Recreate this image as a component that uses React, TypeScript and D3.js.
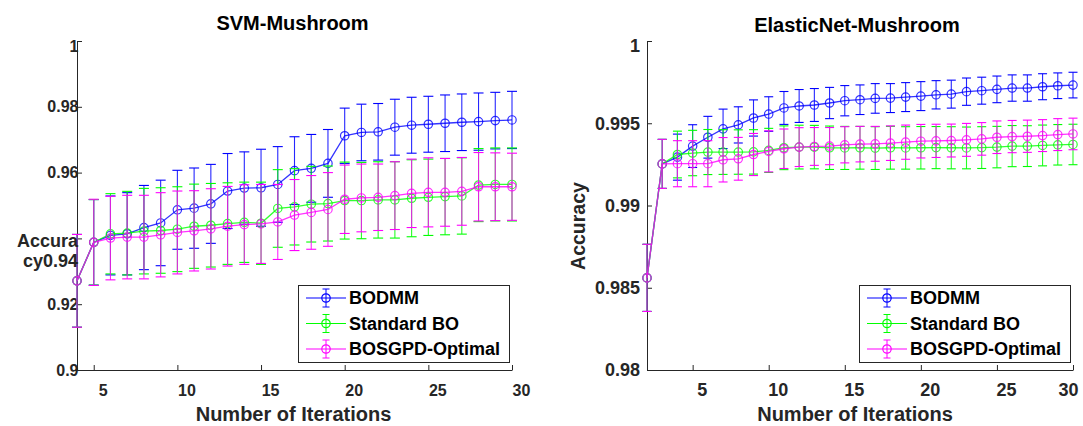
import { useEffect, useRef } from 'react'
import * as d3 from 'd3'

const W = 1083
const H = 426
const TOP = 41
const BOTTOM = 370
const FONT = 'Arial, "Liberation Sans", Helvetica, sans-serif'
const INK = '#262626'

const SERIES_NAMES = ['BODMM', 'Standard BO', 'BOSGPD-Optimal']
const SERIES_COLORS = ['#0000ff', '#00ff00', '#ff00ff']
const X_TICKS = [5, 10, 15, 20, 25, 30]

// SVM-Mushroom
const svmIter = [4, 5, 6, 7, 8, 9, 10, 11, 12, 13, 14, 15, 16, 17, 18, 19, 20, 21, 22, 23, 24, 25, 26, 27, 28, 29, 30]
const svmBodmm = [0.9271, 0.9388, 0.9409, 0.9414, 0.9433, 0.9447, 0.9487, 0.9492, 0.9505, 0.9544, 0.9553, 0.9554, 0.9564, 0.9606, 0.9613, 0.9628, 0.9712, 0.9722, 0.9724, 0.9738, 0.9744, 0.9747, 0.975, 0.9753, 0.9755, 0.9758, 0.976]
const svmBodmmErr = [0.0141, 0.013, 0.012, 0.0125, 0.0128, 0.013, 0.012, 0.0122, 0.012, 0.0114, 0.011, 0.0117, 0.0115, 0.0103, 0.0103, 0.0103, 0.0084, 0.0086, 0.0086, 0.0085, 0.0085, 0.0085, 0.0086, 0.0086, 0.0087, 0.0086, 0.0087]
const svmStd = [0.9271, 0.9388, 0.9414, 0.9416, 0.9422, 0.9424, 0.9428, 0.9437, 0.944, 0.9445, 0.9449, 0.9446, 0.9491, 0.9496, 0.9504, 0.9506, 0.9515, 0.9515, 0.9517, 0.9517, 0.9522, 0.9525, 0.9527, 0.9529, 0.9562, 0.9564, 0.9564]
const svmStdErr = [0.0141, 0.013, 0.0122, 0.0127, 0.013, 0.013, 0.0129, 0.0128, 0.0127, 0.0124, 0.0122, 0.0125, 0.0118, 0.0116, 0.0115, 0.0114, 0.0117, 0.0116, 0.0116, 0.0116, 0.0117, 0.0116, 0.0116, 0.0116, 0.0111, 0.0111, 0.0111]
const svmOpt = [0.9271, 0.9388, 0.9401, 0.9404, 0.9404, 0.9411, 0.9418, 0.9423, 0.9429, 0.9437, 0.9442, 0.9444, 0.945, 0.9471, 0.9479, 0.9488, 0.9519, 0.9523, 0.9525, 0.953, 0.9537, 0.954, 0.954, 0.9543, 0.9557, 0.9557, 0.9557]
const svmOptErr = [0.0141, 0.0131, 0.0127, 0.0127, 0.0127, 0.0128, 0.0126, 0.0122, 0.0122, 0.0121, 0.0121, 0.012, 0.0114, 0.0108, 0.0112, 0.0112, 0.0104, 0.0103, 0.0101, 0.0103, 0.0104, 0.0105, 0.0103, 0.0103, 0.0104, 0.0103, 0.0102]
const svmYTicks = [0.9, 0.92, 0.94, 0.96, 0.98, 1]
const svmYTickLabels = ['0.9', '0.92', '', '0.96', '0.98', '1']

// ElasticNet-Mushroom
const enIter = [2, 3, 4, 5, 6, 7, 8, 9, 10, 11, 12, 13, 14, 15, 16, 17, 18, 19, 20, 21, 22, 23, 24, 25, 26, 27, 28, 29, 30]
const enBodmm = [0.9856, 0.99253, 0.99294, 0.99361, 0.99415, 0.99466, 0.9949, 0.99532, 0.99556, 0.99593, 0.99605, 0.99611, 0.99623, 0.99637, 0.99643, 0.99651, 0.99653, 0.99659, 0.99665, 0.99673, 0.99677, 0.99692, 0.99698, 0.99706, 0.99714, 0.99714, 0.99722, 0.99728, 0.99732]
const enBodmmErr = [0.00204, 0.00149, 0.0014, 0.0013, 0.00127, 0.0012, 0.0011, 0.0011, 0.00105, 0.001, 0.001, 0.001, 0.00095, 0.00092, 0.0009, 0.0009, 0.00088, 0.00088, 0.00088, 0.00086, 0.00085, 0.00083, 0.00082, 0.00081, 0.0008, 0.0008, 0.00079, 0.00078, 0.00078]
const enStd = [0.9856, 0.99253, 0.9931, 0.99319, 0.99325, 0.99325, 0.99325, 0.99326, 0.99335, 0.99351, 0.99355, 0.99355, 0.99351, 0.9935, 0.99351, 0.99349, 0.99351, 0.9935, 0.99351, 0.99352, 0.99351, 0.9935, 0.99352, 0.99355, 0.99361, 0.99361, 0.99365, 0.99369, 0.99371]
const enStdErr = [0.00204, 0.00149, 0.00142, 0.00138, 0.00137, 0.00136, 0.00135, 0.00135, 0.00134, 0.00133, 0.00133, 0.00132, 0.00132, 0.00131, 0.0013, 0.0013, 0.0013, 0.00129, 0.00129, 0.00128, 0.00128, 0.00127, 0.00127, 0.00126, 0.00125, 0.00124, 0.00124, 0.00123, 0.00123]
const enOpt = [0.9856, 0.99253, 0.99254, 0.99254, 0.99254, 0.99278, 0.99284, 0.9931, 0.99329, 0.99345, 0.99355, 0.99359, 0.99361, 0.99369, 0.99373, 0.99375, 0.99379, 0.99385, 0.99391, 0.99393, 0.99395, 0.99399, 0.99405, 0.99415, 0.99419, 0.99421, 0.99425, 0.99431, 0.99435]
const enOptErr = [0.00204, 0.00149, 0.0014, 0.0014, 0.0014, 0.00135, 0.0013, 0.00128, 0.00125, 0.0012, 0.00118, 0.00115, 0.00113, 0.0011, 0.00108, 0.00106, 0.00105, 0.00104, 0.00102, 0.00101, 0.001, 0.001, 0.00099, 0.00099, 0.00098, 0.00098, 0.00097, 0.00097, 0.00096]
const enYTicks = [0.98, 0.985, 0.99, 0.995, 1]
const enYTickLabels = ['0.98', '0.985', '0.99', '0.995', '1']

const panels = [
  {
    title: 'SVM-Mushroom',
    iter: svmIter,
    series: [
      { values: svmBodmm, err: svmBodmmErr },
      { values: svmStd, err: svmStdErr },
      { values: svmOpt, err: svmOptErr },
    ],
    yDomain: [0.9, 1],
    yTicks: svmYTicks,
    yTickLabels: svmYTickLabels,
    left: 77, right: 512,
    tickFont: 16, yLabelDx: 1.5,
    titleX: 292.5, titleY: 30, titleSize: 20,
    xLabelX: 293.5,
    capW: 5,
  },
  {
    title: 'ElasticNet-Mushroom',
    iter: enIter,
    series: [
      { values: enBodmm, err: enBodmmErr },
      { values: enStd, err: enStdErr },
      { values: enOpt, err: enOptErr },
    ],
    yDomain: [0.98, 1],
    yTicks: enYTicks,
    yTickLabels: enYTickLabels,
    left: 647, right: 1073,
    tickFont: 18, yLabelDx: -7,
    titleX: 857, titleY: 31.5, titleSize: 20,
    xLabelX: 855,
    capW: 4.5,
  },
]

function styleAxis(ax, size) {
  ax.attr('font-family', FONT)
    .attr('font-size', size)
    .attr('font-weight', 'bold')
    .attr('color', INK)
  ax.selectAll('text').attr('fill', INK)
}

function drawPanel(svg, p) {
  const g = svg.append('g')
  const x = d3.scaleLinear().domain([p.iter[0], 30]).range([p.left, p.right])
  const y = d3.scaleLinear().domain(p.yDomain).range([BOTTOM, TOP])

  // Axes (MATLAB style: ticks inside, no box)
  const xAx = g.append('g')
    .attr('transform', `translate(0,${BOTTOM})`)
    .call(d3.axisBottom(x).tickValues(X_TICKS).tickFormat(d3.format('d')).tickSizeInner(-5).tickSizeOuter(0))
  styleAxis(xAx, p.tickFont)
  xAx.selectAll('text')
    .attr('y', 26)
    .attr('dy', null)
    .attr('x', (d) => Math.min(9, W - 15 - x(d)))

  const yAx = g.append('g')
    .attr('transform', `translate(${p.left},0)`)
    .call(d3.axisLeft(y).tickValues(p.yTicks).tickFormat((d, i) => p.yTickLabels[i]).tickSizeInner(-5).tickSizeOuter(0))
  styleAxis(yAx, p.tickFont)
  yAx.selectAll('text')
    .attr('x', p.yLabelDx)
    .attr('y', (d) => Math.max(0, TOP + 5 - y(d)))

  // Series with error bars
  p.series.forEach((s, si) => {
    const color = SERIES_COLORS[si]
    const pts = s.values.map((v, i) => ({ n: p.iter[i], v, e: s.err[i] }))
    const sg = g.append('g').attr('stroke', color).attr('fill', 'none').attr('stroke-width', 1.1)

    sg.selectAll('.stem').data(pts).join('line')
      .attr('class', 'stem')
      .attr('stroke-opacity', 0.85)
      .attr('x1', (d) => x(d.n)).attr('x2', (d) => x(d.n))
      .attr('y1', (d) => y(d.v - d.e)).attr('y2', (d) => y(d.v + d.e))
    sg.selectAll('.capHi').data(pts).join('line')
      .attr('class', 'capHi')
      .attr('x1', (d) => x(d.n) - p.capW).attr('x2', (d) => x(d.n) + p.capW)
      .attr('y1', (d) => y(d.v + d.e)).attr('y2', (d) => y(d.v + d.e))
    sg.selectAll('.capLo').data(pts).join('line')
      .attr('class', 'capLo')
      .attr('x1', (d) => x(d.n) - p.capW).attr('x2', (d) => x(d.n) + p.capW)
      .attr('y1', (d) => y(d.v - d.e)).attr('y2', (d) => y(d.v - d.e))

    const line = d3.line().x((d) => x(d.n)).y((d) => y(d.v))
    sg.append('path').datum(pts).attr('stroke-opacity', 0.8).attr('stroke-width', 1.3).attr('d', line)

    sg.selectAll('circle').data(pts).join('circle')
      .attr('stroke-opacity', 0.8)
      .attr('stroke-width', 1.2)
      .attr('cx', (d) => x(d.n)).attr('cy', (d) => y(d.v))
      .attr('r', 4.2)
  })

  // Legend
  const lw = 211
  const lh = 77
  const lx = p.right - 3 - lw
  const ly = 285
  const lg = g.append('g')
  lg.append('rect')
    .attr('x', lx + 0.5).attr('y', ly + 0.5)
    .attr('width', lw).attr('height', lh)
    .attr('fill', '#fff').attr('stroke', INK)
  SERIES_NAMES.forEach((name, i) => {
    const cy = ly + 13 + i * 25.5
    const cx = lx + 28
    const c = SERIES_COLORS[i]
    lg.append('line').attr('x1', lx + 8).attr('x2', lx + 48).attr('y1', cy).attr('y2', cy).attr('stroke', c).attr('stroke-width', 1.2)
    lg.append('line').attr('x1', cx).attr('x2', cx).attr('y1', cy - 9).attr('y2', cy + 9).attr('stroke', c)
    lg.append('line').attr('x1', cx - 3.5).attr('x2', cx + 3.5).attr('y1', cy - 9).attr('y2', cy - 9).attr('stroke', c)
    lg.append('line').attr('x1', cx - 3.5).attr('x2', cx + 3.5).attr('y1', cy + 9).attr('y2', cy + 9).attr('stroke', c)
    lg.append('circle').attr('cx', cx).attr('cy', cy).attr('r', 4.2).attr('fill', 'none').attr('stroke', c).attr('stroke-width', 1.2)
    lg.append('text')
      .attr('x', lx + 51).attr('y', cy).attr('dy', '0.35em')
      .attr('font-family', FONT).attr('font-size', 18).attr('font-weight', 'bold')
      .attr('fill', '#000')
      .text(name)
  })

  // Title and x label
  g.append('text')
    .attr('x', p.titleX).attr('y', p.titleY)
    .attr('text-anchor', 'middle')
    .attr('font-family', FONT).attr('font-size', p.titleSize).attr('font-weight', 'bold')
    .attr('fill', '#000')
    .text(p.title)

  g.append('text')
    .attr('x', p.xLabelX).attr('y', 421)
    .attr('text-anchor', 'middle')
    .attr('font-family', FONT).attr('font-size', 20).attr('font-weight', 'bold')
    .attr('fill', INK)
    .text('Number of Iterations')
}

export default function App() {
  const svgRef = useRef(null)

  useEffect(() => {
    const svg = d3.select(svgRef.current)
    svg.selectAll('*').remove()
    svg.attr('width', W).attr('height', H)

    panels.forEach((p) => drawPanel(svg, p))

    // y labels: left one is wrapped horizontally, right one is rotated
    const ylab = svg.append('g')
      .attr('font-family', FONT).attr('font-weight', 'bold').attr('fill', INK)
    ylab.append('text')
      .attr('x', 78).attr('y', 247).attr('text-anchor', 'end').attr('font-size', 18)
      .text('Accura')
    ylab.append('text')
      .attr('x', 78).attr('y', 267).attr('text-anchor', 'end').attr('font-size', 18)
      .text('cy0.94')
    ylab.append('text')
      .attr('transform', 'translate(585,226) rotate(-90)')
      .attr('text-anchor', 'middle').attr('font-size', 19.5)
      .text('Accuracy')

    return () => {
      svg.selectAll('*').remove()
    }
  }, [])

  return (
    <svg
      ref={svgRef}
      style={{ position: 'absolute', left: 0, top: 0, background: '#fff', display: 'block' }}
    />
  )
}
